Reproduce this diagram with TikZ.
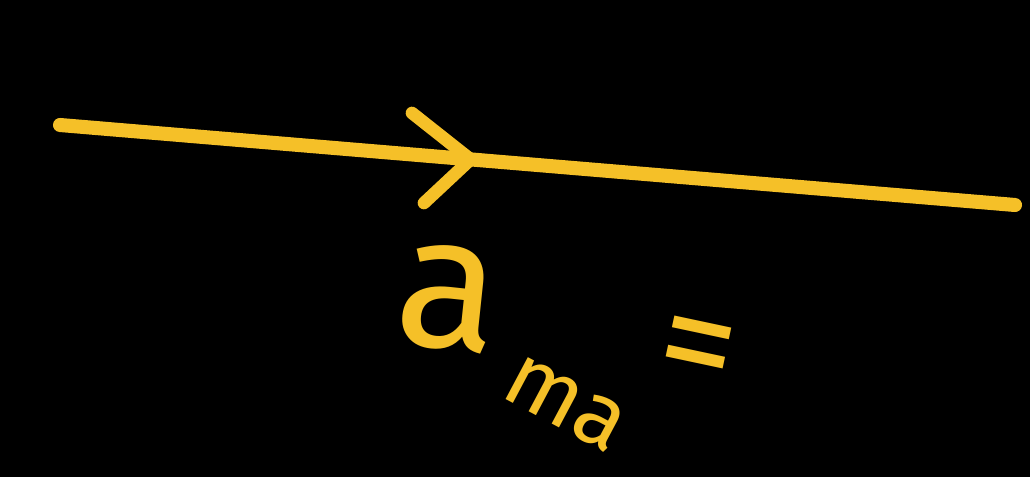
\documentclass[tikz,border=0pt]{standalone}
\usepackage{fontspec}
\setmainfont{Fira Sans}
\usepackage{xcolor}
\usetikzlibrary{calc,positioning}
\definecolor{chalk}{RGB}{245,192,40}

\begin{document}
\begin{tikzpicture}[
    x=0.025cm, y=-0.025cm,
    stroke/.style={draw=chalk, line width=10pt, line cap=round, line join=round},
    hand/.style={text=chalk, inner sep=0pt},
  ]
    % --- black board ---
    \fill[black] (0,0) rectangle (1030,477);
    \useasboundingbox (0,0) rectangle (1030,477);

    % --- the line with its direction chevron ---
    \coordinate (start) at (60,125);
    \coordinate (end) at (1015,205);
    \coordinate (tip) at ($(start)!0.43!(end)$);
    \coordinate (armup) at (412,113);
    \coordinate (armdown) at (424,203);
    \draw[stroke] (start) -- (end);
    \draw[stroke, line width=9pt] (armup) -- (tip) -- (armdown);

    % --- label below ---
    \node[hand, font=\fontsize{135}{135}\selectfont, rotate=-6] (a) at (448,298) {a};
    \node[hand, font=\fontsize{64}{64}\selectfont, rotate=-28] (ma) at (565,404) {ma};
    \node[hand, font=\fontsize{110}{110}\selectfont, rotate=-12] (eq) at (696,357) {=};
  \end{tikzpicture}
\end{document}
